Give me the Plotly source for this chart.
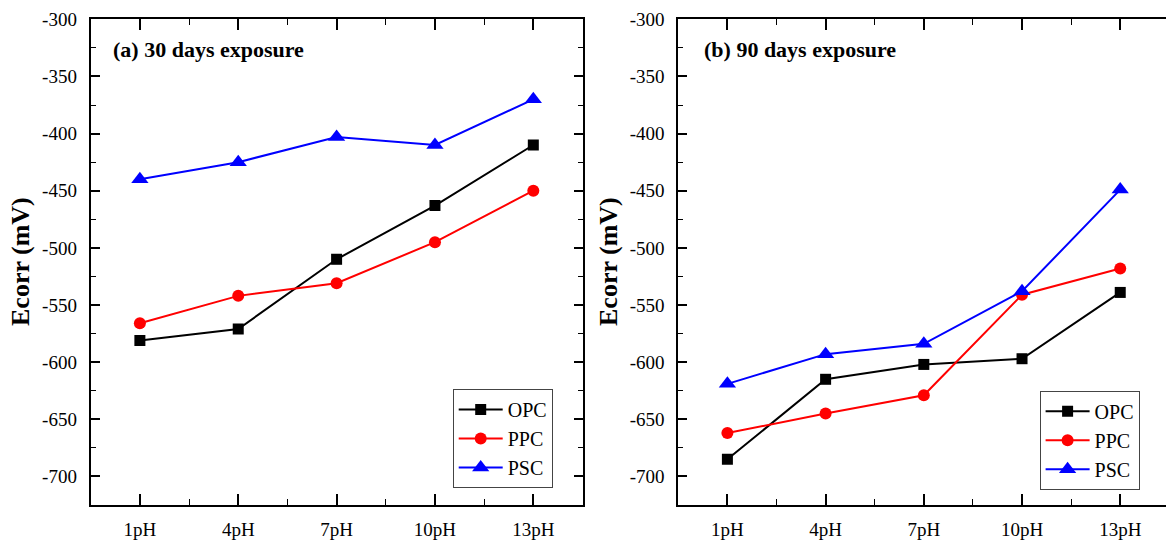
import plotly.graph_objects as go

categories = ["1pH", "4pH", "7pH", "10pH", "13pH"]
series_names = ["OPC", "PPC", "PSC"]

opc_30 = [-581, -571, -510, -463, -410]
ppc_30 = [-566, -542, -531, -495, -450]
psc_30 = [-440, -425, -403, -410, -370]

opc_90 = [-685, -615, -602, -597, -539]
ppc_90 = [-662, -645, -629, -541, -518]
psc_90 = [-619, -593, -584, -538, -449]

y_ticks = [-300, -350, -400, -450, -500, -550, -600, -650, -700]
y_tick_labels = [str(v) for v in y_ticks]

colors = {"OPC": "#000000", "PPC": "#ff0000", "PSC": "#0000ff"}
symbols = {"OPC": "square", "PPC": "circle", "PSC": "triangle-up"}
sizes = {"OPC": 11, "PPC": 12, "PSC": 15}

FONT = "Liberation Serif"
W, H = 1166, 542

xi = list(range(len(categories)))

fig = go.Figure()

panels = [
    ("x", "y", "legend", {"OPC": opc_30, "PPC": ppc_30, "PSC": psc_30}),
    ("x2", "y2", "legend2", {"OPC": opc_90, "PPC": ppc_90, "PSC": psc_90}),
]
for xa, ya, lg, data in panels:
    for name in series_names:
        fig.add_trace(go.Scatter(
            x=xi, y=data[name], name=name, mode="lines+markers",
            xaxis=xa, yaxis=ya, legend=lg,
            line=dict(color=colors[name], width=2),
            marker=dict(symbol=symbols[name], size=sizes[name], color=colors[name]),
        ))

def px_x(v):
    return v / W

def px_y(v):
    return 1 - v / H

y_dom = [px_y(505), px_y(19.3)]

common_x = dict(
    tickvals=xi, ticktext=categories, ticks="inside", ticklen=11, tickwidth=1.5,
    tickcolor="black", showline=True, linecolor="black", linewidth=2,
    showgrid=False, zeroline=False, tickfont=dict(family=FONT, size=19, color="black"),
    minor=dict(dtick=0.5, tick0=0.5, ticks="inside", ticklen=6, tickcolor="black", tickwidth=1),
    ticklabelstandoff=6, automargin=False,
)
common_y = dict(
    range=[-725, -300], tickvals=y_ticks, ticktext=y_tick_labels, ticks="inside", ticklen=9, tickwidth=1.5,
    tickcolor="black", showline=True, linecolor="black", linewidth=2,
    showgrid=False, zeroline=False, tickfont=dict(family=FONT, size=19, color="black"),
    minor=dict(dtick=25, tick0=-300, ticks="inside", ticklen=5, tickcolor="black", tickwidth=1),
    ticklabelstandoff=8, automargin=False,
)

fig.update_layout(
    width=W, height=H,
    margin=dict(l=0, r=0, t=0, b=0, autoexpand=False),
    paper_bgcolor="white", plot_bgcolor="white",
    font=dict(family=FONT, color="black"),
    xaxis=dict(common_x, domain=[px_x(90.7), px_x(582.5)], range=[-0.5, 4.5], mirror="ticks", anchor="y"),
    yaxis=dict(common_y, domain=y_dom, mirror="ticks", anchor="x"),
    xaxis2=dict(common_x, domain=[px_x(678.3), 1.0], range=[-0.5, 4.466], mirror="ticks", anchor="y2"),
    yaxis2=dict(common_y, domain=y_dom, mirror=False, anchor="x2"),
    legend=dict(x=px_x(452.7), y=px_y(389), xanchor="left", yanchor="top",
                bordercolor="#444", borderwidth=1, bgcolor="white",
                font=dict(family=FONT, size=20, color="black"), itemwidth=44,
                tracegroupgap=0),
    legend2=dict(x=px_x(1039.6), y=px_y(390.7), xanchor="left", yanchor="top",
                 bordercolor="#444", borderwidth=1, bgcolor="white",
                 font=dict(family=FONT, size=20, color="black"), itemwidth=44,
                 tracegroupgap=0),
    annotations=[
        dict(text="<b>(a) 30 days exposure</b>", x=px_x(111), y=px_y(50), xref="paper", yref="paper",
             xanchor="left", yanchor="middle", showarrow=False, font=dict(family=FONT, size=22, color="black")),
        dict(text="<b>(b) 90 days exposure</b>", x=px_x(701.5), y=px_y(50), xref="paper", yref="paper",
             xanchor="left", yanchor="middle", showarrow=False, font=dict(family=FONT, size=22, color="black")),
        dict(text="<b>Ecorr (mV)</b>", x=px_x(20), y=px_y(262), xref="paper", yref="paper",
             xanchor="center", yanchor="middle", textangle=-90, showarrow=False,
             font=dict(family=FONT, size=26, color="black")),
        dict(text="<b>Ecorr (mV)</b>", x=px_x(608), y=px_y(262), xref="paper", yref="paper",
             xanchor="center", yanchor="middle", textangle=-90, showarrow=False,
             font=dict(family=FONT, size=26, color="black")),
    ],
)

fig.write_html("out.html")
